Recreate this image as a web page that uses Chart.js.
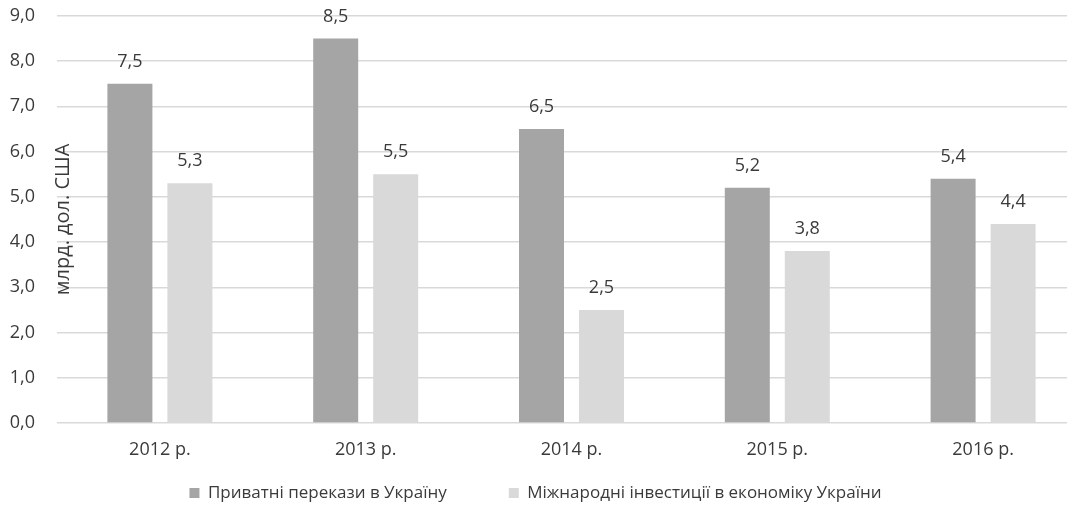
<!DOCTYPE html>
<html>
<head>
<meta charset="utf-8">
<script src="https://cdn.jsdelivr.net/npm/chart.js@4/dist/chart.umd.min.js"></script>
<style>
  html, body { margin: 0; padding: 0; background: #fff; overflow: hidden; }
  #wrap { width: 1090px; height: 519px; }
</style>
</head>
<body>
<div id="wrap"><canvas id="grafico" width="1090" height="519"></canvas></div>
<script>
// дані з графіка
const roky = ['2012 р.', '2013 р.', '2014 р.', '2015 р.', '2016 р.'];
const perekazy = [7.5, 8.5, 6.5, 5.2, 5.4];
const investytsii = [5.3, 5.5, 2.5, 3.8, 4.4];
const nazvaPerekazy = 'Приватні перекази в Україну';
const nazvaInvest = 'Міжнародні інвестиції в економіку України';
const pidpysOsi = 'млрд. дол. США';

const shryft = '"Open Sans", "DejaVu Sans", sans-serif';
const kolirTekstu = '#3a3a3a';

function formatChysla(v) {
    return v.toFixed(1).replace('.', ',');
}

// підписи над стовпцями
const pidpysyZnachen = {
    id: 'pidpysyZnachen',
    afterDatasetsDraw(chart) {
        const ctx = chart.ctx;
        ctx.save();
        ctx.font = '18px ' + shryft;
        ctx.fillStyle = kolirTekstu;
        ctx.textAlign = 'center';
        ctx.textBaseline = 'middle';
        chart.data.datasets.forEach((ds, i) => {
            chart.getDatasetMeta(i).data.forEach((bar, j) => {
                ctx.fillText(formatChysla(ds.data[j]), bar.x, bar.y - 22);
            });
        });
        ctx.restore();
    }
};

// назва осі всередині області графіка
const nazvaOsi = {
    id: 'nazvaOsi',
    afterDraw(chart) {
        const ctx = chart.ctx;
        const area = chart.chartArea;
        ctx.save();
        ctx.translate(area.left + 6, chart.scales.y.getPixelForValue(4.5));
        ctx.rotate(-Math.PI / 2);
        ctx.font = '20px ' + shryft;
        ctx.fillStyle = kolirTekstu;
        ctx.textAlign = 'center';
        ctx.textBaseline = 'middle';
        ctx.fillText(pidpysOsi, 0, 0);
        ctx.restore();
    }
};

// полотно ширше за вікно і легенда з великим відступом, тому зсуваємо її
const zsuvLegendy = {
    id: 'zsuvLegendy',
    afterLayout(chart) {
        const lg = chart.legend;
        lg.left -= 7.5;
        lg.right -= 7.5;
        lg.top -= 46;
        lg.bottom -= 46;
    }
};

new Chart(document.getElementById('grafico'), {
    type: 'bar',
    data: {
        labels: roky,
        datasets: [
            {
                label: nazvaPerekazy,
                data: perekazy,
                backgroundColor: '#a5a5a5',
                categoryPercentage: 0.583,
                barPercentage: 0.75
            },
            {
                label: nazvaInvest,
                data: investytsii,
                backgroundColor: '#d9d9d9',
                categoryPercentage: 0.583,
                barPercentage: 0.75
            }
        ]
    },
    options: {
        responsive: false,
        animation: false,
        layout: { padding: { left: 0, top: 0, right: 4, bottom: -38.6 } },
        scales: {
            x: {
                grid: { display: false },
                border: { display: false },
                ticks: { color: kolirTekstu, font: { family: shryft, size: 18 }, padding: 8 }
            },
            y: {
                min: 0,
                max: 9,
                ticks: {
                    stepSize: 1,
                    color: kolirTekstu,
                    font: { family: shryft, size: 18 },
                    padding: 5,
                    callback: v => formatChysla(v)
                },
                grid: { color: '#d9d9d9', lineWidth: 1.5, drawTicks: true, tickLength: 17, tickColor: 'rgba(0,0,0,0)' },
                border: { display: false },
                afterFit(scale) { scale.width = 57; }
            }
        },
        plugins: {
            legend: {
                position: 'bottom',
                labels: {
                    color: kolirTekstu,
                    font: { family: shryft, size: 17 },
                    boxWidth: 10,
                    boxHeight: 10,
                    padding: 62
                }
            },
            tooltip: { enabled: false }
        }
    },
    plugins: [pidpysyZnachen, nazvaOsi, zsuvLegendy]
});
</script>
</body>
</html>
